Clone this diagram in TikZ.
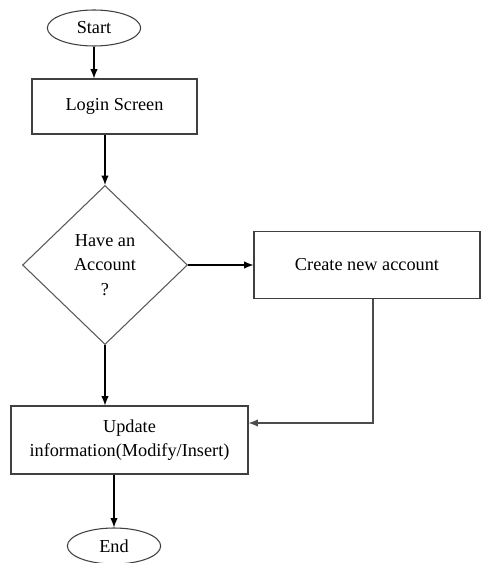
\documentclass[tikz,border=0pt]{standalone}
\usepackage{fontspec}
\setmainfont{Liberation Serif}
\usetikzlibrary{shapes.geometric,arrows.meta}
\begin{document}
\begin{tikzpicture}[x=0.75pt,y=-0.75pt,
    box/.style={draw=black!75,line width=0.8pt,rectangle,align=center,inner sep=2pt},
    term/.style={draw=black!75,line width=0.8pt,ellipse,inner sep=0pt,minimum width=70pt,minimum height=27pt},
    decide/.style={draw=black!65,line width=0.8pt,diamond,aspect=1,inner sep=0pt,align=center,minimum width=123.75pt,minimum height=119.25pt},
    font=\fontsize{13.7}{18.4}\selectfont,
    every path/.style={line width=0.8pt}]
      \useasboundingbox (0,0) rectangle (481,563);
      \node[term] (start) at (94,28) {Start};
      \node[box,minimum width=123.75pt,minimum height=41.25pt] (login) at (114.5,106.5) {Login Screen};
      \node[decide] (acct) at (105,265) {Have an\\Account\\?};
      \node[box,minimum width=169.5pt,minimum height=50.25pt] (create) at (367,265) {Create new account};
      \node[box,minimum width=177.75pt,minimum height=51pt] (update) at (129.5,440) {Update\\information(Modify/Insert)};
      \node[term] (end) at (114,546) {End};
      \coordinate (turn) at (373,423);
      \begin{scope}[-{Latex[length=7pt,width=5.5pt]}]
        \draw (start) -- (start |- login.north);
        \draw (acct.north |- login.south) -- (acct.north);
        \draw (acct.east) -- (create.west);
        \draw (acct.south) -- (acct.south |- update.north);
        \draw[black!70] (create.south -| turn) -- (turn) -- (turn -| update.east);
        \draw (end.north |- update.south) -- (end.north);
      \end{scope}
    \end{tikzpicture}
\end{document}
